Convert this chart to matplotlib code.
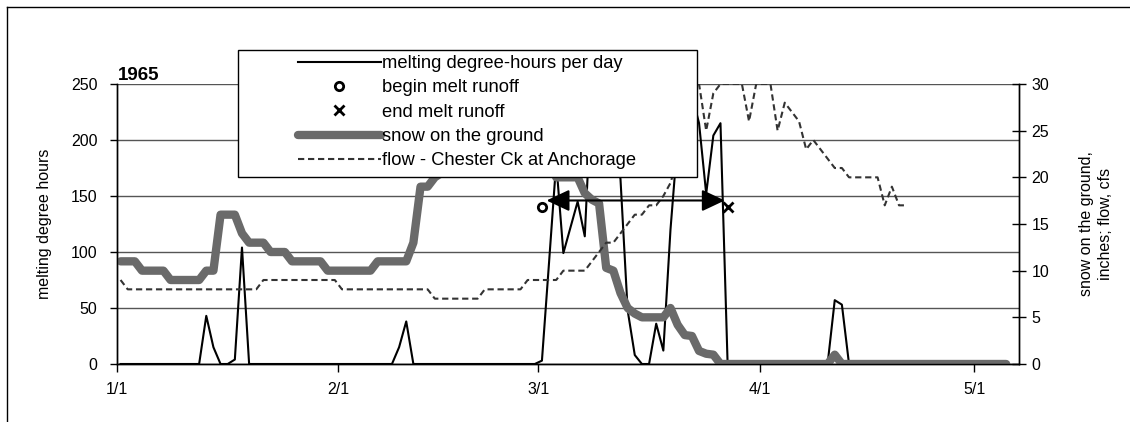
import matplotlib
matplotlib.use("Agg")
import matplotlib.pyplot as plt
from matplotlib.lines import Line2D
from matplotlib.patches import Rectangle

plt.rcParams['font.family'] = ['Liberation Sans', 'DejaVu Sans']

# ---- data (day 0 = 1/1/1965) ----
tick_days = [0, 31, 59, 90, 120]
tick_labels = ['1/1', '2/1', '3/1', '4/1', '5/1']

# melting degree-hours per day (left axis)
melt_day = [0, 11, 12, 13, 14, 15, 16, 17, 18, 38, 39, 40, 41, 58, 59, 60, 61,
            62, 63, 64, 65, 66, 67, 68, 69, 70, 71, 72, 73, 74, 75, 76, 77, 78,
            79, 80, 81, 82, 83, 84, 85, 99, 100, 101, 102, 124]
melt_val = [0, 0, 43, 15, 0, 0, 4, 104, 0, 0, 15, 38, 0, 0, 3, 91, 180,
            99, 122, 145, 114, 250, 240, 225, 210, 165, 48, 8, 0, 0, 36, 12, 120, 200,
            235, 240, 215, 152, 204, 215, 0, 0, 57, 53, 0, 0]

# snow on the ground, inches (right axis)
snow_day = [0, 2, 3, 6, 7, 11, 12, 13, 14, 16, 17, 18, 20, 21, 23, 24, 28, 29,
            35, 36, 40, 41, 42, 43, 44, 45, 46, 48, 50, 52, 54, 56, 58, 60, 61,
            64, 65, 66, 67, 68, 69, 70, 71, 72, 73, 76, 77, 78, 79, 80, 81, 82,
            83, 84, 99, 100, 101, 124]
snow_val = [11, 11, 10, 10, 9, 9, 10, 10, 16, 16, 14, 13, 13, 12, 12, 11, 11, 10,
            10, 11, 11, 13, 19, 19, 20, 20.5, 22, 24, 25, 27, 27, 26, 24, 22, 20,
            20, 18.3, 17.6, 17.2, 10.3, 10, 7.6, 6, 5.4, 5, 5, 6, 4.2, 3.1, 3, 1.4, 1.1,
            1, 0, 0, 1, 0, 0]

# flow - Chester Ck at Anchorage, cfs (right axis)
flow_day = [0, 1, 19, 20, 30, 31, 43, 44, 50, 51, 56, 57, 61, 62, 65, 66, 67,
            68, 69, 70, 71, 72, 73, 74, 75, 76, 77, 78, 79, 80, 81, 82, 83, 84,
            87, 88, 89, 91, 92, 93, 94, 95, 96, 97, 98, 99, 100, 101, 102, 106,
            107, 108, 109, 110]
flow_val = [9, 8, 8, 9, 9, 8, 8, 7, 7, 8, 8, 9, 9, 10, 10, 11, 12,
            13, 13, 14, 15, 16, 16, 17, 17, 18, 19.4, 22, 26, 29, 30, 25, 29, 30,
            30, 26, 30, 30, 25, 28, 27, 26, 23, 24, 23, 22, 21, 21, 20, 20,
            17, 19, 17, 17]

# melt runoff period (left axis units)
begin_day, begin_val = [59], [140]
end_day, end_val = [85], [140]
runoff_start, runoff_end, runoff_level = 59.65, 84.6, 146

W, H = 1130, 422
fig = plt.figure(figsize=(W / 100, H / 100), dpi=100)
L, R, T, B = 117, 1019, 84, 364
ax = fig.add_axes([L / W, 1 - B / H, (R - L) / W, (B - T) / H])
ax2 = ax.twinx()

# left axis: melt
ax.plot(melt_day, melt_val, color='black', lw=1.5, zorder=3)
ax.set_ylim(0, 250)
ax.set_yticks(range(0, 251, 50))
ax.set_xlim(-0.5, 125.8)
ax.set_xticks([d - 0.5 for d in tick_days])
ax.set_xticklabels(tick_labels)
ax.yaxis.grid(True, color='#555555', lw=1)
ax.set_axisbelow(True)

# right axis: snow + flow
ax2.plot(snow_day, snow_val, color='#6a6a6a', lw=6, solid_capstyle='round',
         solid_joinstyle='round', zorder=2)
ax2.plot(flow_day, flow_val, color='#333333', lw=1.5, ls=(0, (3, 1.8)), zorder=3)
ax2.set_ylim(0, 30)
ax2.set_yticks(range(0, 31, 5))

# runoff markers and arrow
ax2.plot(begin_day, begin_val, 'o', ms=6, mfc='white', mec='black', mew=2,
         transform=ax.transData, zorder=4)
ax2.plot(end_day, end_val, 'x', ms=6.5, mec='black', mew=2,
         transform=ax.transData, zorder=4)
ax2.annotate('', xy=(runoff_end, runoff_level), xytext=(runoff_start, runoff_level),
             xycoords=ax.transData, textcoords=ax.transData,
             arrowprops=dict(arrowstyle='<|-|>,head_length=0.7,head_width=0.33',
                             mutation_scale=20, color='black', lw=1.5,
                             shrinkA=0, shrinkB=0), zorder=4)

for a in (ax, ax2):
    a.spines['top'].set_visible(False)
    for s in ('left', 'right', 'bottom'):
        a.spines[s].set_linewidth(1)
        a.spines[s].set_color('black')

ax.tick_params(axis='y', direction='out', length=5, width=1, labelsize=11.5, pad=9)
ax.tick_params(axis='x', direction='out', length=6, width=1, labelsize=11.5, pad=7)
ax2.tick_params(axis='y', direction='inout', length=10, width=1, labelsize=11.5, pad=4)

# labels
fig.text(45 / W, 1 - 224 / H, 'melting degree hours', rotation=90,
         ha='center', va='center', fontsize=11.5)
fig.text(1096 / W, 1 - 224 / H, 'snow on the ground,\ninches; flow, cfs',
         rotation=90, ha='center', va='center', fontsize=11.5,
         multialignment='center', linespacing=1.3)
fig.text(118 / W, 1 - 75 / H, '1965', fontweight='bold', fontsize=13.5,
         ha='left', va='center')

# legend with opaque box
box = Rectangle((238 / W, 1 - 177 / H), (697 - 238) / W, (177 - 50) / H,
                transform=fig.transFigure, facecolor='white', edgecolor='black',
                lw=1, clip_on=False, zorder=5)
ax2.add_artist(box)
handles = [
    Line2D([], [], color='black', lw=1.5),
    Line2D([], [], ls='none', marker='o', ms=6, mfc='white', mec='black', mew=2),
    Line2D([], [], ls='none', marker='x', ms=6.5, mec='black', mew=2),
    Line2D([], [], color='#6a6a6a', lw=6, solid_capstyle='round'),
    Line2D([], [], color='#333333', lw=1.5, ls=(0, (3, 1.8))),
]
labels = ['melting degree-hours per day', 'begin melt runoff', 'end melt runoff',
          'snow on the ground', 'flow - Chester Ck at Anchorage']
leg = ax2.legend(handles, labels, loc='upper left',
                 bbox_to_anchor=(298 / W, 1 - 55 / H), bbox_transform=fig.transFigure,
                 frameon=False, borderpad=0, borderaxespad=0, handlelength=4.5,
                 handletextpad=0.1, labelspacing=0.4, fontsize=13.2)
leg.set_zorder(6)

# chart frame (left and top edges)
fig.add_artist(Line2D([7 / W, 7 / W], [0, 1 - 7 / H], transform=fig.transFigure,
                      color='black', lw=1))
fig.add_artist(Line2D([7 / W, 1], [1 - 7 / H, 1 - 7 / H], transform=fig.transFigure,
                      color='black', lw=1))

fig.savefig('out.png', dpi=100)
